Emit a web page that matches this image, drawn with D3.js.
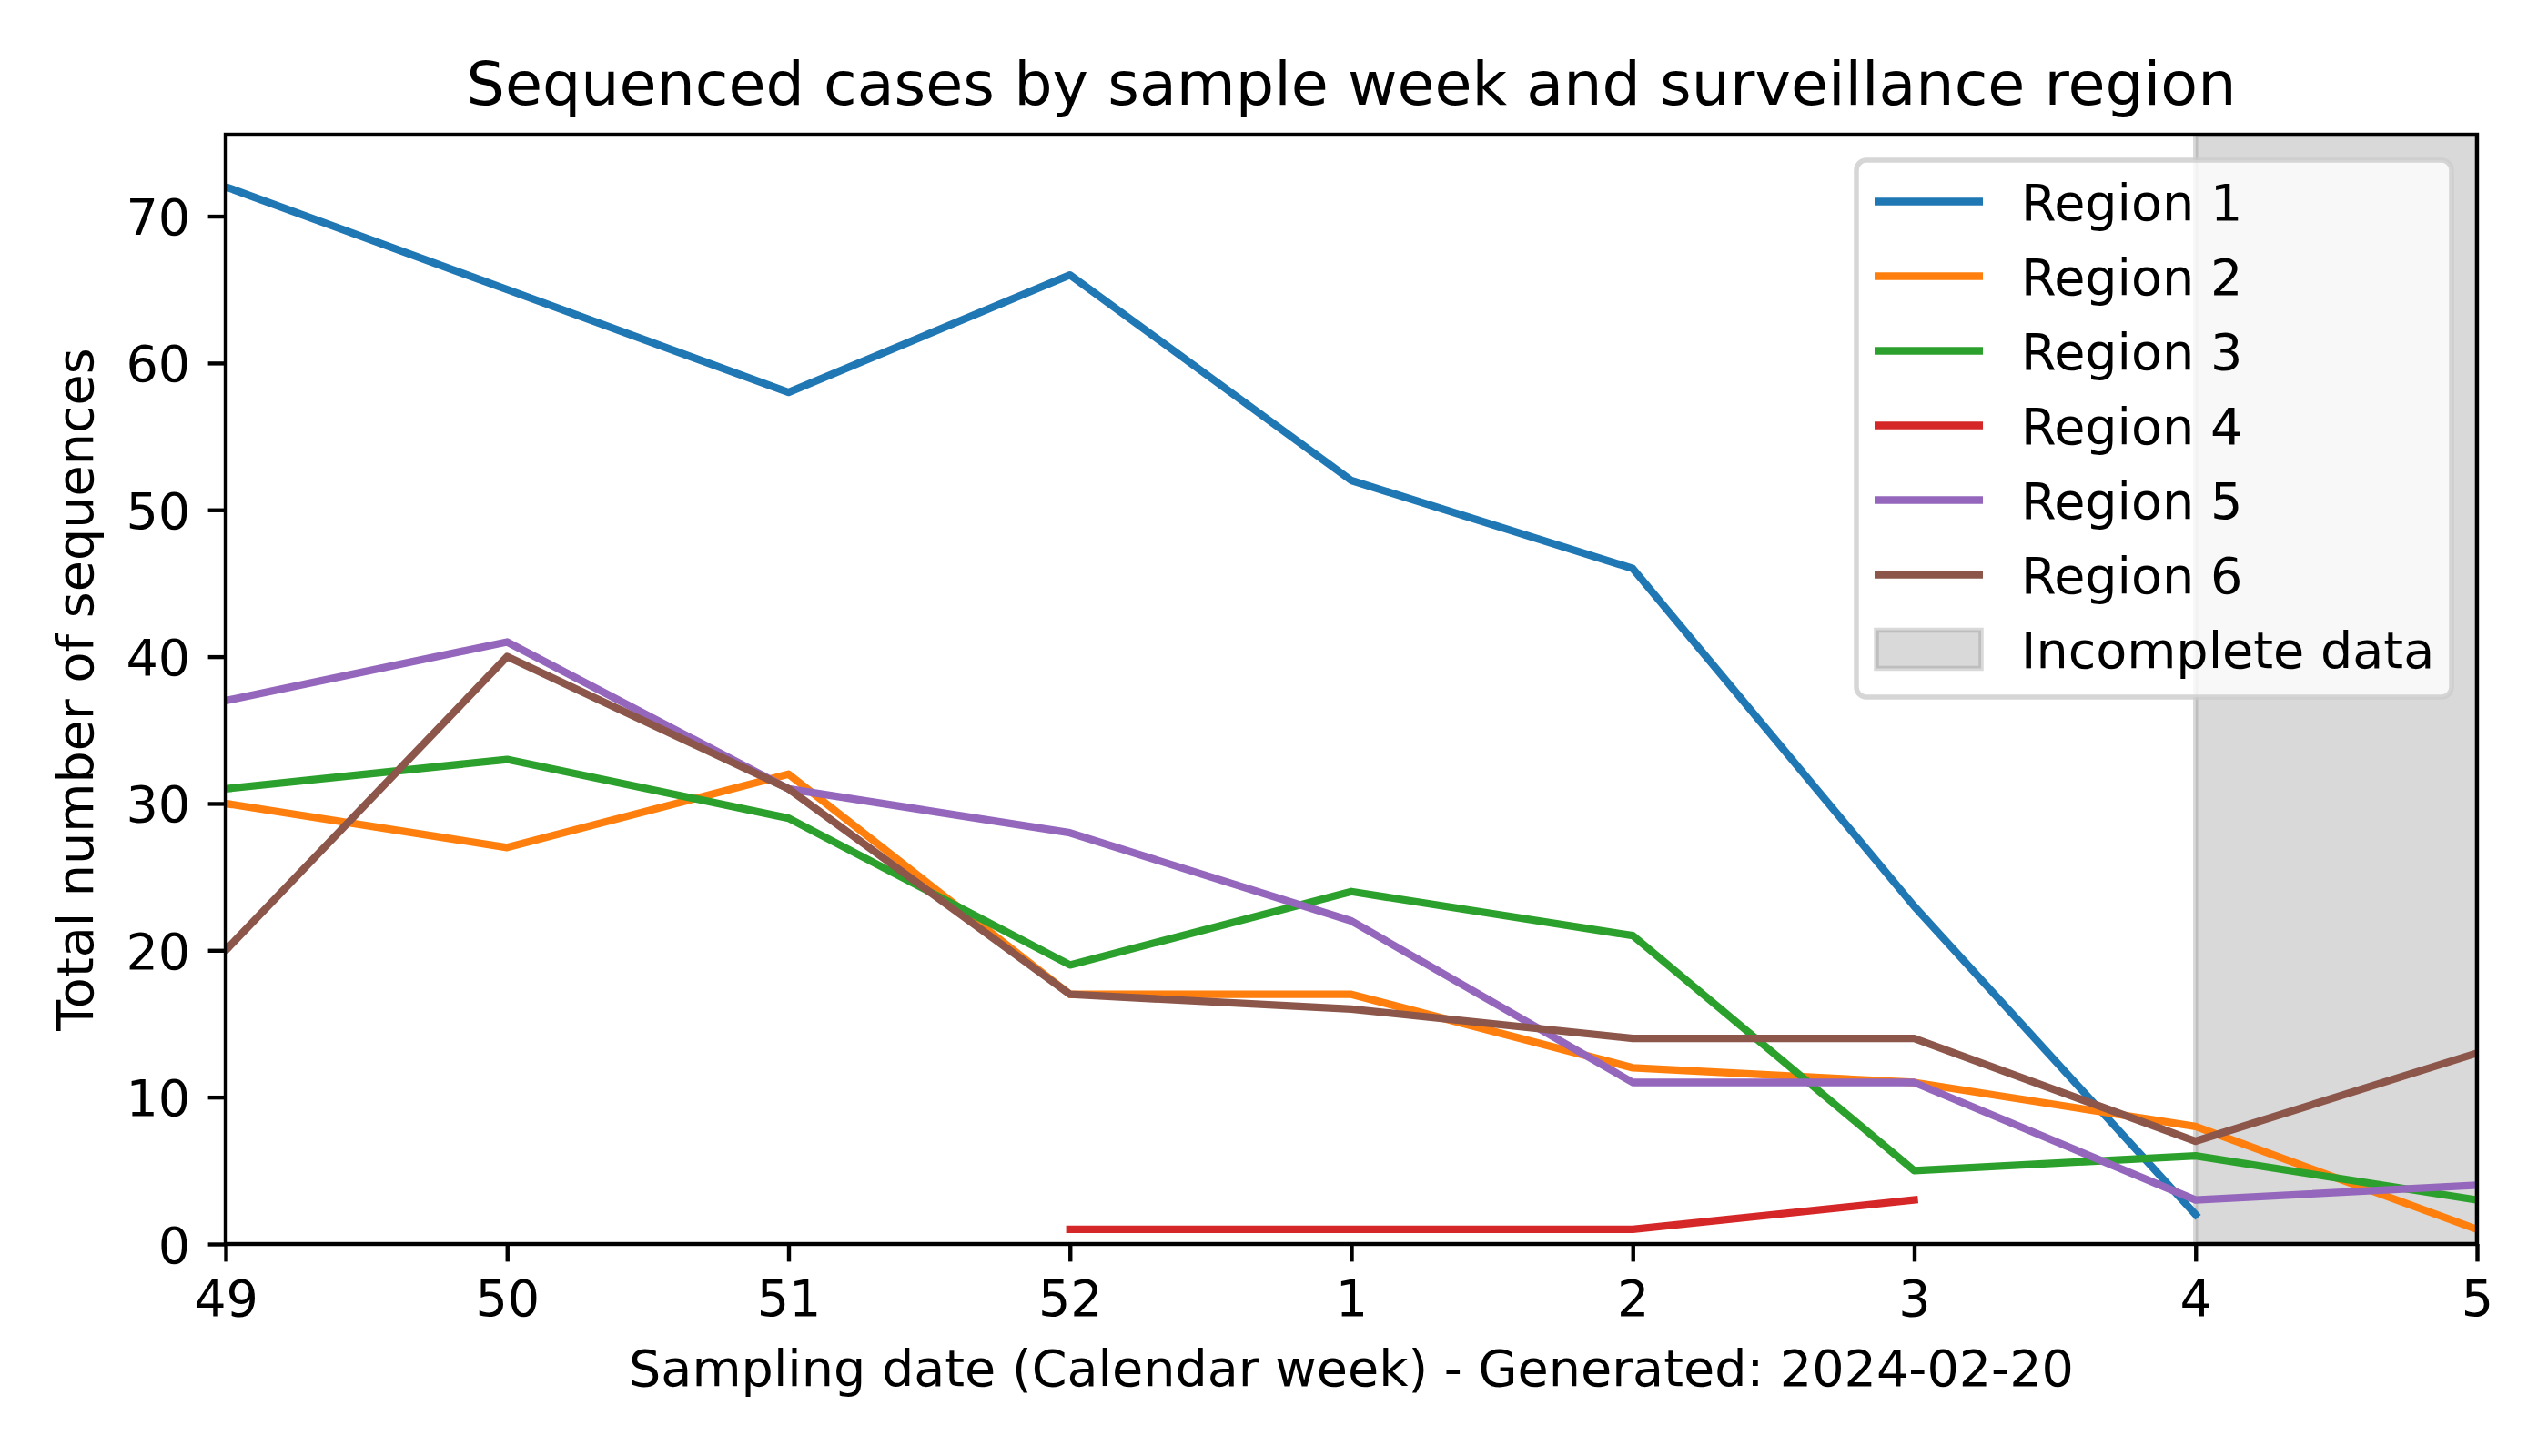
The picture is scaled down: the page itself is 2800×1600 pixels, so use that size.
<!DOCTYPE html>
<html>
<head>
<meta charset="utf-8">
<script src="https://cdn.jsdelivr.net/npm/d3@7"></script>
<style>
  html, body { margin: 0; padding: 0; background: #fff; }
  svg { display: block; }
  text { font-family: "DejaVu Sans", sans-serif; fill: #000; }
</style>
</head>
<body>
<svg id="chart" width="2800" height="1600"></svg>
<script>
// ---- Data ----
const weeks = ["49", "50", "51", "52", "1", "2", "3", "4", "5"];
const seriesNames = ["Region 1", "Region 2", "Region 3", "Region 4", "Region 5", "Region 6"];
const region1 = [72, 65, 58, 66, 52, 46, 23, 2, null];
const region2 = [30, 27, 32, 17, 17, 12, 11, 8, 1];
const region3 = [31, 33, 29, 19, 24, 21, 5, 6, 3];
const region4 = [null, null, null, 1, 1, 1, 3, null, null];
const region5 = [37, 41, 31, 28, 22, 11, 11, 3, 4];
const region6 = [20, 40, 31, 17, 16, 14, 14, 7, 13];
const yTicks = [0, 10, 20, 30, 40, 50, 60, 70];
const incompleteRange = ["4", "5"];
const incompleteLabel = "Incomplete data";
const titleText = "Sequenced cases by sample week and surveillance region";
const xLabelText = "Sampling date (Calendar week) - Generated: 2024-02-20";
const yLabelText = "Total number of sequences";

const seriesValues = [region1, region2, region3, region4, region5, region6];
const colors = ["#1f77b4", "#ff7f0e", "#2ca02c", "#d62728", "#9467bd", "#8c564b"];

// ---- Layout ----
const W = 2800, H = 1600;
const m = { left: 248, right: 2722, top: 148, bottom: 1367 };
const fs = 55.6;        // 10pt @ 400dpi
const lw = 8.3;         // 1.5pt
const axLw = 4.4;       // 0.8pt
const tickLen = 19.4;
const tickPad = 19.4;

const svg = d3.select("#chart");

const x = d3.scalePoint().domain(weeks).range([m.left, m.right]);
const y = d3.scaleLinear().domain([0, 75.55]).range([m.bottom, m.top]);

// clip
svg.append("defs").append("clipPath").attr("id", "plotclip")
  .append("rect")
  .attr("x", m.left).attr("y", m.top)
  .attr("width", m.right - m.left).attr("height", m.bottom - m.top);

// incomplete span
svg.append("rect")
  .attr("x", x(incompleteRange[0]))
  .attr("y", m.top)
  .attr("width", x(incompleteRange[1]) - x(incompleteRange[0]))
  .attr("height", m.bottom - m.top)
  .attr("fill", "#808080").attr("fill-opacity", 0.3)
  .attr("stroke", "#808080").attr("stroke-opacity", 0.3)
  .attr("stroke-width", 5.5)
  .attr("clip-path", "url(#plotclip)");

// lines
const line = d3.line()
  .defined(d => d.v !== null)
  .x(d => x(d.w))
  .y(d => y(d.v));

const linesG = svg.append("g").attr("clip-path", "url(#plotclip)");
seriesValues.forEach((vals, i) => {
  const data = weeks.map((w, j) => ({ w: w, v: vals[j] }));
  linesG.append("path")
    .datum(data)
    .attr("d", line)
    .attr("fill", "none")
    .attr("stroke", colors[i])
    .attr("stroke-width", lw)
    .attr("stroke-linejoin", "round")
    .attr("stroke-linecap", "square");
});

// axes
const xAxis = d3.axisBottom(x).tickSizeInner(tickLen).tickSizeOuter(0).tickPadding(tickPad);
const gx = svg.append("g").attr("transform", `translate(0,${m.bottom})`).call(xAxis);
gx.select(".domain").remove();
gx.selectAll(".tick line").attr("stroke", "#000").attr("stroke-width", axLw);
gx.selectAll(".tick text")
  .attr("font-size", fs)
  .attr("font-family", "DejaVu Sans")
  .attr("dy", null)
  .attr("y", tickLen + tickPad + 0.76 * fs * 0.96);

const yAxis = d3.axisLeft(y).tickValues(yTicks).tickSizeInner(tickLen).tickSizeOuter(0).tickPadding(tickPad);
const gy = svg.append("g").attr("transform", `translate(${m.left},0)`).call(yAxis);
gy.select(".domain").remove();
gy.selectAll(".tick line").attr("stroke", "#000").attr("stroke-width", axLw);
gy.selectAll(".tick text")
  .attr("font-size", fs)
  .attr("font-family", "DejaVu Sans")
  .attr("dy", "0.36em");

// spines
svg.append("rect")
  .attr("x", m.left).attr("y", m.top)
  .attr("width", m.right - m.left).attr("height", m.bottom - m.top)
  .attr("fill", "none").attr("stroke", "#000").attr("stroke-width", axLw)
  .attr("stroke-linejoin", "miter");

// title & labels
svg.append("text")
  .attr("x", (m.left + m.right) / 2).attr("y", 115)
  .attr("text-anchor", "middle")
  .attr("font-size", 66.7)
  .text(titleText);

svg.append("text")
  .attr("x", (m.left + m.right) / 2).attr("y", 1523)
  .attr("text-anchor", "middle")
  .attr("font-size", fs)
  .text(xLabelText);

svg.append("text")
  .attr("transform", `translate(102,${(m.top + m.bottom) / 2}) rotate(-90)`)
  .attr("text-anchor", "middle")
  .attr("font-size", fs)
  .text(yLabelText);

// legend
const lg = svg.append("g");
lg.append("rect")
  .attr("x", 2040).attr("y", 176)
  .attr("width", 2694 - 2040).attr("height", 766 - 176)
  .attr("rx", 11).attr("ry", 11)
  .attr("fill", "#fff").attr("fill-opacity", 0.8)
  .attr("stroke", "#cccccc").attr("stroke-opacity", 0.8)
  .attr("stroke-width", 5.5);

const rowY0 = 221.5, rowStep = 82;
seriesNames.forEach((name, i) => {
  const cy = rowY0 + i * rowStep;
  lg.append("line")
    .attr("x1", 2060).attr("x2", 2179)
    .attr("y1", cy).attr("y2", cy)
    .attr("stroke", colors[i]).attr("stroke-width", lw);
  lg.append("text")
    .attr("x", 2221).attr("y", cy + 20)
    .attr("font-size", fs)
    .text(name);
});
const pcy = rowY0 + 6 * rowStep;
lg.append("rect")
  .attr("x", 2062).attr("y", pcy - 21)
  .attr("width", 115).attr("height", 42)
  .attr("fill", "#808080").attr("fill-opacity", 0.3)
  .attr("stroke", "#808080").attr("stroke-opacity", 0.3)
  .attr("stroke-width", 5.5);
lg.append("text")
  .attr("x", 2221).attr("y", pcy + 20)
  .attr("font-size", fs)
  .text(incompleteLabel);
</script>
</body>
</html>
